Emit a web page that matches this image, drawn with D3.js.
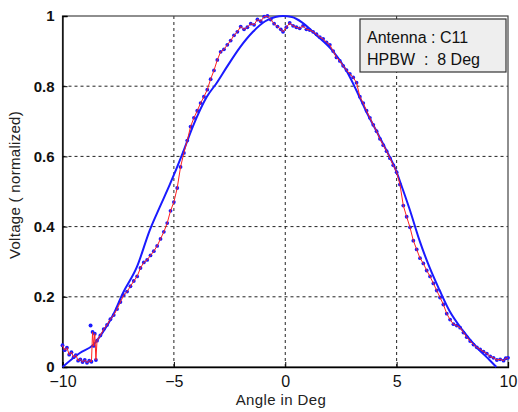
<!DOCTYPE html>
<html>
<head>
<meta charset="utf-8">
<script src="https://cdn.jsdelivr.net/npm/d3@7"></script>
<style>
  body { margin: 0; background: #fff; }
  text { font-family: "Liberation Sans", Arial, sans-serif; }
</style>
</head>
<body>
<div id="chart"></div>
<script>
// chart size
const w = 518;
const h = 412;

// measured pattern (red line, blue markers)
const measAngle = [-10.0,-9.9,-9.8,-9.7,-9.6,-9.5,-9.4,-9.3,-9.2,-9.1,-9.0,-8.9,-8.8,-8.7,-8.65,-8.6,-8.55,-8.5,-8.45,-8.3,-8.15,-8.0,-7.85,-7.7,-7.55,-7.4,-7.25,-7.1,-6.95,-6.8,-6.65,-6.5,-6.35,-6.2,-6.05,-5.9,-5.75,-5.6,-5.45,-5.3,-5.15,-5.0,-4.85,-4.7,-4.55,-4.4,-4.25,-4.1,-3.95,-3.8,-3.65,-3.5,-3.35,-3.2,-3.05,-2.9,-2.75,-2.6,-2.45,-2.3,-2.15,-2.0,-1.85,-1.7,-1.55,-1.4,-1.25,-1.1,-0.95,-0.8,-0.65,-0.5,-0.35,-0.2,-0.1,0.05,0.2,0.35,0.5,0.65,0.8,0.95,1.1,1.25,1.4,1.55,1.7,1.85,2.0,2.15,2.3,2.45,2.6,2.75,2.9,3.05,3.2,3.35,3.5,3.65,3.8,3.95,4.1,4.25,4.4,4.55,4.7,4.85,5.0,5.15,5.3,5.45,5.6,5.75,5.9,6.05,6.2,6.35,6.5,6.65,6.8,6.95,7.1,7.25,7.4,7.55,7.7,7.85,8.0,8.15,8.3,8.45,8.6,8.75,8.9,9.05,9.2,9.35,9.5,9.65,9.8,9.9,10.0];
const measVolt = [0.062,0.048,0.055,0.035,0.042,0.028,0.034,0.018,0.022,0.014,0.020,0.012,0.018,0.015,0.10,0.06,0.095,0.02,0.075,0.09,0.108,0.12,0.136,0.148,0.165,0.185,0.205,0.215,0.23,0.245,0.258,0.282,0.298,0.305,0.318,0.33,0.345,0.365,0.385,0.41,0.445,0.47,0.51,0.57,0.61,0.645,0.685,0.71,0.73,0.752,0.77,0.79,0.82,0.845,0.875,0.898,0.905,0.918,0.93,0.945,0.955,0.97,0.962,0.968,0.978,0.975,0.99,0.985,0.998,1.0,0.99,0.978,0.97,0.962,0.955,0.968,0.98,0.972,0.968,0.965,0.972,0.962,0.96,0.955,0.948,0.94,0.935,0.925,0.918,0.9,0.882,0.872,0.858,0.846,0.835,0.825,0.81,0.77,0.752,0.73,0.71,0.69,0.672,0.65,0.632,0.615,0.595,0.575,0.555,0.52,0.46,0.428,0.398,0.36,0.335,0.31,0.295,0.275,0.258,0.238,0.218,0.198,0.178,0.152,0.135,0.122,0.118,0.112,0.098,0.085,0.074,0.064,0.056,0.05,0.044,0.038,0.03,0.026,0.02,0.022,0.018,0.025,0.026];

// second (blue) pattern
const blueAngle = [-10,-9.22,-8.62,-8.18,-7.73,-7.29,-6.66,-6.08,-5.63,-5.18,-4.6,-4.15,-3.52,-3.07,-2.62,-2.04,-1.45,-0.9,-0.45,-0.1,0.3,0.75,1.39,2.14,2.73,3.18,3.62,4.07,4.52,4.97,5.2,5.58,6.03,6.47,6.92,7.37,7.96,8.58,9.17,9.48];
const blueVolt = [0,0.04,0.063,0.10,0.148,0.21,0.285,0.39,0.456,0.52,0.61,0.685,0.77,0.81,0.855,0.91,0.955,0.985,0.997,1.0,0.997,0.982,0.946,0.90,0.846,0.79,0.73,0.675,0.62,0.56,0.52,0.45,0.36,0.285,0.22,0.16,0.105,0.057,0.02,0];

// stray marker
const strayAngle = [-8.74];
const strayVolt = [0.118];

const xTicks = [-10, -5, 0, 5, 10];
const yTicks = [0, 0.2, 0.4, 0.6, 0.8, 1];
const legendLines = ['Antenna : C11', 'HPBW  :  8 Deg'];

const m = {left: 62.5, right: 10, top: 16, bottom: 45};

const x = d3.scaleLinear().domain([-10, 10]).range([m.left, w - m.right]);
const y = d3.scaleLinear().domain([0, 1]).range([h - m.bottom, m.top]);

const svg = d3.select('#chart')
  .append('svg')
  .attr('width', w)
  .attr('height', h);

// grid
svg.append('g')
  .selectAll('line')
  .data(xTicks.slice(1, -1))
  .enter()
  .append('line')
  .attr('x1', d => x(d)).attr('x2', d => x(d))
  .attr('y1', y(0)).attr('y2', y(1))
  .attr('stroke', '#222')
  .attr('stroke-width', 1)
  .attr('stroke-dasharray', '3,3');

svg.append('g')
  .selectAll('line')
  .data(yTicks.slice(1, -1))
  .enter()
  .append('line')
  .attr('x1', x(-10)).attr('x2', x(10))
  .attr('y1', d => y(d)).attr('y2', d => y(d))
  .attr('stroke', '#222')
  .attr('stroke-width', 1)
  .attr('stroke-dasharray', '3,3');

// frame
svg.append('rect')
  .attr('x', x(-10)).attr('y', y(1))
  .attr('width', x(10) - x(-10))
  .attr('height', y(0) - y(1))
  .attr('fill', 'none')
  .attr('stroke', '#444')
  .attr('stroke-width', 1.2);

// axes
const xAxis = d3.axisBottom(x).tickValues(xTicks).tickSize(-5).tickPadding(9).tickFormat(d3.format('d'));
const yAxis = d3.axisLeft(y).tickValues(yTicks).tickSize(-5).tickPadding(8).tickFormat(d => d === 0 || d === 1 ? d : d3.format('.1f')(d));

const gx = svg.append('g')
  .attr('transform', `translate(0,${y(0)})`)
  .call(xAxis);
gx.select('.domain').attr('stroke', '#000').attr('stroke-width', 1.3);
gx.selectAll('text').attr('font-size', 16).attr('fill', '#111');

const gy = svg.append('g')
  .attr('transform', `translate(${x(-10)},0)`)
  .call(yAxis);
gy.select('.domain').attr('stroke', '#000').attr('stroke-width', 1.3);
gy.selectAll('text').attr('font-size', 15).attr('font-weight', 'bold').attr('fill', '#111');

// axis labels
svg.append('text')
  .attr('x', 281).attr('y', 405)
  .attr('text-anchor', 'middle')
  .attr('font-size', 15)
  .attr('letter-spacing', 0.4)
  .attr('fill', '#222')
  .text('Angle in Deg');

svg.append('text')
  .attr('transform', 'translate(20,185) rotate(-90)')
  .attr('text-anchor', 'middle')
  .attr('font-size', 15)
  .attr('letter-spacing', 0.3)
  .attr('fill', '#222')
  .text('Voltage ( normalized)');

// lines
const blueData = blueAngle.map((a, i) => ({a: a, v: blueVolt[i]}));
const measData = measAngle.map((a, i) => ({a: a, v: measVolt[i]}));

const line = d3.line().x(d => x(d.a)).y(d => y(d.v));
const smooth = d3.line().x(d => x(d.a)).y(d => y(d.v)).curve(d3.curveMonotoneX);

svg.append('path')
  .datum(blueData)
  .attr('d', smooth)
  .attr('fill', 'none')
  .attr('stroke', '#1a1aff')
  .attr('stroke-width', 2);

svg.append('g')
  .selectAll('circle')
  .data(measData)
  .enter()
  .append('circle')
  .attr('cx', d => x(d.a))
  .attr('cy', d => y(d.v))
  .attr('r', 1.9)
  .attr('fill', '#1a1aff');

svg.append('path')
  .datum(measData)
  .attr('d', line)
  .attr('fill', 'none')
  .attr('stroke', '#ff2020')
  .attr('stroke-width', 1);

svg.append('g')
  .selectAll('circle')
  .data(strayAngle.map((a, i) => ({a: a, v: strayVolt[i]})))
  .enter()
  .append('circle')
  .attr('cx', d => x(d.a))
  .attr('cy', d => y(d.v))
  .attr('r', 2)
  .attr('fill', '#1a1aff');

// legend box
const lg = svg.append('g').attr('transform', 'translate(360,19)');
lg.append('rect')
  .attr('width', 146).attr('height', 53)
  .attr('fill', '#eeeeee')
  .attr('stroke', '#333')
  .attr('stroke-width', 1.2);
lg.selectAll('text')
  .data(legendLines)
  .enter()
  .append('text')
  .attr('x', 7)
  .attr('y', (d, i) => 24 + i * 22)
  .attr('font-size', 16)
  .attr('fill', '#111')
  .attr('xml:space', 'preserve')
  .style('white-space', 'pre')
  .text(d => d);
</script>
</body>
</html>
